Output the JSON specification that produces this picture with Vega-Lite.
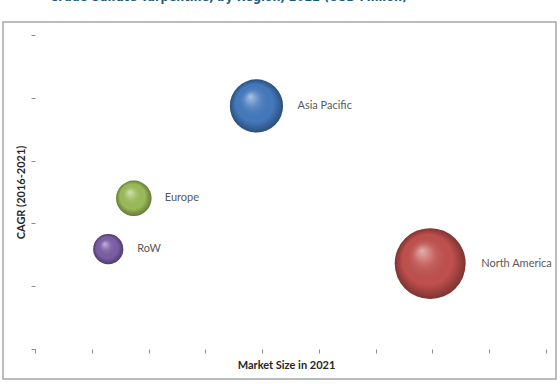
{
  "$schema": "https://vega.github.io/schema/vega-lite/v6.json",
  "width": 553,
  "height": 357,
  "autosize": {"type": "none"},
  "padding": {"left": 3, "top": 22, "right": 4, "bottom": 5},
  "background": "white",
  "title": {
    "text": "Crude Sulfate Turpentine, by Region, 2022 (USD Million)",
    "anchor": "start",
    "frame": "group",
    "dx": 47,
    "offset": 9,
    "baseline": "alphabetic",
    "font": "DejaVu Sans Condensed, Roboto Condensed, Roboto",
    "fontWeight": "bold",
    "fontSize": 12.5,
    "color": "#1d5a7a"
  },
  "config": {"view": {"stroke": "#a6a6a6", "strokeWidth": 1.5}},
  "data": {
    "values": [
      {"region": "Asia Pacific", "market": 3.9, "cagr": 3.87, "bubble": 900},
      {"region": "North America", "market": 6.96, "cagr": 1.36, "bubble": 1600},
      {"region": "Europe", "market": 1.74, "cagr": 2.4, "bubble": 400},
      {"region": "RoW", "market": 1.29, "cagr": 1.59, "bubble": 289}
    ]
  },
  "encoding": {
    "x": {
      "field": "market",
      "type": "quantitative",
      "title": "Market Size in 2021",
      "scale": {"domain": [-0.5636, 9.176], "nice": false, "zero": false},
      "axis": {
        "offset": -30,
        "domain": false,
        "labels": false,
        "values": [0, 1, 2, 3, 4, 5, 6, 7, 8, 9],
        "tickSize": 4,
        "tickColor": "#8c8c8c",
        "grid": false,
        "titleFont": "Lato",
        "titleFontSize": 11,
        "titleFontWeight": "bold",
        "titleColor": "#262626",
        "titlePadding": 6,
        "titleX": 283
      }
    },
    "y": {
      "field": "cagr",
      "type": "quantitative",
      "title": "CAGR (2016-2021)",
      "scale": {"domain": [-0.478, 5.207], "nice": false, "zero": false},
      "axis": {
        "offset": -32,
        "domain": false,
        "labels": false,
        "values": [0, 1, 2, 3, 4, 5],
        "tickSize": 4,
        "tickColor": "#8c8c8c",
        "grid": false,
        "titleFont": "Lato",
        "titleFontSize": 11,
        "titleFontWeight": "bold",
        "titleColor": "#262626",
        "titlePadding": 4,
        "titleY": 170
      }
    }
  },
  "layer": [
    {
      "data": {"values": [{"axis": "x"}]},
      "mark": {"type": "rule", "stroke": "#8c8c8c", "strokeWidth": 1},
      "encoding": {
        "x": {"datum": 0, "type": "quantitative", "title": "Market Size in 2021"},
        "x2": {"datum": 9},
        "y": {"datum": 0, "type": "quantitative", "title": "CAGR (2016-2021)"}
      }
    },
    {
      "data": {"values": [{"axis": "y"}]},
      "mark": {"type": "rule", "stroke": "#8c8c8c", "strokeWidth": 1},
      "encoding": {
        "x": {"datum": 0, "type": "quantitative", "title": "Market Size in 2021"},
        "y": {"datum": 0, "type": "quantitative", "title": "CAGR (2016-2021)"},
        "y2": {"datum": 5}
      }
    },
    {
      "mark": {"type": "circle", "opacity": 1},
      "encoding": {
        "color": {
          "field": "region",
          "type": "nominal",
          "scale": {
            "domain": ["Asia Pacific", "North America", "Europe", "RoW"],
            "range": ["#4479bd", "#c0504d", "#9bbb59", "#7b5ea6"]
          },
          "legend": null
        },
        "size": {
          "field": "bubble",
          "type": "quantitative",
          "scale": {"domain": [0, 1600], "range": [0, 5027]},
          "legend": null
        }
      }
    },
    {
      "mark": {
        "type": "circle",
        "opacity": 1,
        "fill": {
          "gradient": "radial",
          "x1": 0.38, "y1": 0.32, "r1": 0,
          "x2": 0.5, "y2": 0.5, "r2": 0.5,
          "stops": [
            {"offset": 0, "color": "rgba(255,255,255,0.55)"},
            {"offset": 0.3, "color": "rgba(255,255,255,0.12)"},
            {"offset": 0.7, "color": "rgba(0,0,0,0)"},
            {"offset": 1, "color": "rgba(0,0,0,0.35)"}
          ]
        }
      },
      "encoding": {
        "size": {
          "field": "bubble",
          "type": "quantitative",
          "scale": {"domain": [0, 1600], "range": [0, 5027]},
          "legend": null
        }
      }
    },
    {
      "transform": [{"filter": "datum.region === 'Asia Pacific'"}],
      "mark": {"type": "text", "align": "left", "baseline": "middle", "dx": 41, "font": "Lato", "fontSize": 11, "color": "#595959"},
      "encoding": {"text": {"field": "region"}}
    },
    {
      "transform": [{"filter": "datum.region === 'North America'"}],
      "mark": {"type": "text", "align": "left", "baseline": "middle", "dx": 51, "font": "Lato", "fontSize": 11, "color": "#595959"},
      "encoding": {"text": {"field": "region"}}
    },
    {
      "transform": [{"filter": "datum.region === 'Europe'"}],
      "mark": {"type": "text", "align": "left", "baseline": "middle", "dx": 31, "font": "Lato", "fontSize": 11, "color": "#595959"},
      "encoding": {"text": {"field": "region"}}
    },
    {
      "transform": [{"filter": "datum.region === 'RoW'"}],
      "mark": {"type": "text", "align": "left", "baseline": "middle", "dx": 29, "font": "Lato", "fontSize": 11, "color": "#595959"},
      "encoding": {"text": {"field": "region"}}
    }
  ]
}
